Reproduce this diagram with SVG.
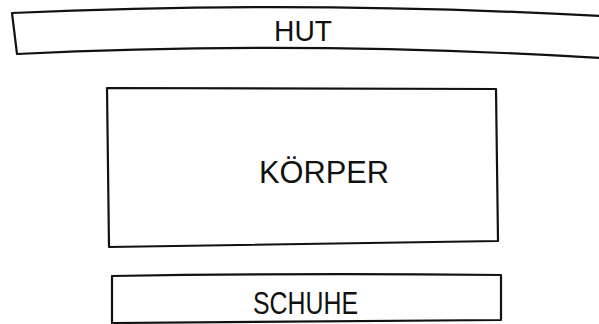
<svg xmlns="http://www.w3.org/2000/svg" width="599" height="324" viewBox="0 0 599 324">
<style>
.box{fill:none;stroke:#111;stroke-width:2.2;stroke-linecap:round;stroke-linejoin:round}
.lbl{font-family:"Liberation Sans",Arial,sans-serif;fill:#111;text-anchor:start}
</style>
<rect width="599" height="324" fill="#fff"/>
<g id="hut">
<path class="box" d="M12,13 Q300,0 602,16 M17,54 Q300,40 602,58 M12,13 L17,54"/>
<text class="lbl" x="274" y="41" font-size="30" textLength="58" lengthAdjust="spacingAndGlyphs">HUT</text>
</g>
<g id="koerper">
<path class="box" d="M107,88 L496,89 L498,241 L109,247 Z"/>
<text class="lbl" x="259" y="183" font-size="31" textLength="130" lengthAdjust="spacingAndGlyphs">KÖRPER</text>
</g>
<g id="schuhe">
<path class="box" d="M112,276 Q300,273 501,275 L501,320 L112,323 Z"/>
<text class="lbl" x="253" y="314" font-size="32" textLength="105" lengthAdjust="spacingAndGlyphs">SCHUHE</text>
</g>
<g id="connectors"/>
</svg>
